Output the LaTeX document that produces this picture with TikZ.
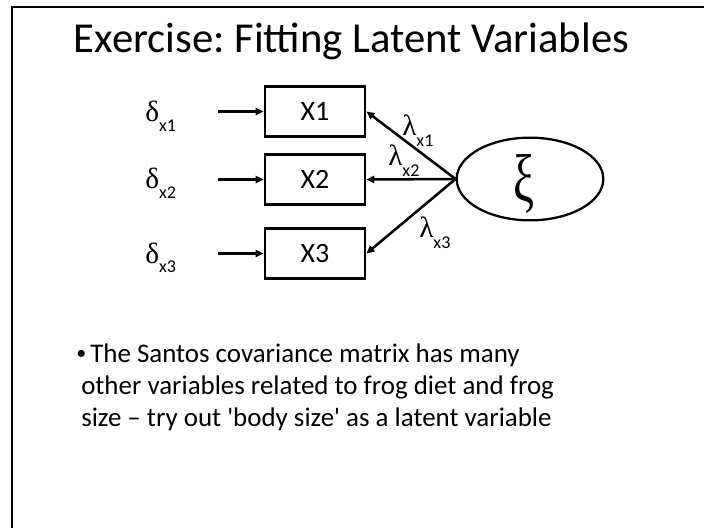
\documentclass[tikz,border=0pt]{standalone}
\usepackage{fontspec}
\setmainfont{Carlito}
\newfontfamily\carl{Carlito}
\newfontfamily\greek{Liberation Serif}
\usetikzlibrary{arrows.meta,shapes.geometric}
\begin{document}
\frenchspacing
\begin{tikzpicture}[x=0.75pt,y=-0.75pt,
  obs/.style={draw,line width=2.2pt,minimum width=75pt,minimum height=38pt,inner sep=0pt,font=\fontsize{21}{21}\selectfont},
  conn/.style={line width=1.9pt,-{Triangle[length=6pt,width=5.5pt]}},
  lbl/.style={anchor=base west,inner sep=0pt},
  body/.style={anchor=base west,inner sep=0pt,font=\fontsize{20.2}{24}\selectfont}]
\useasboundingbox (0,0) rectangle (704,528);
\draw[line width=1.6pt] (12,528) -- (12,7) -- (704,7);
\node[anchor=base,inner sep=0pt,font=\fontsize{32}{38}\selectfont] (title) at (351.5,53) {Exercise: Fitting Latent Variables};
% observed
\node[obs] (x1) at (315,111.5) {X1};
\node[obs] (x2) at (315,179.5) {X2};
\node[obs] (x3) at (315,253.5) {X3};
% labels
\newcommand{\dlab}[1]{{\greek\fontsize{22}{22}\selectfont δ}\raisebox{-7pt}{\fontsize{13.5}{13.5}\selectfont #1}}
\newcommand{\llab}[1]{{\greek\fontsize{22}{22}\selectfont λ}\raisebox{-8pt}{\fontsize{13.5}{13.5}\selectfont #1}}
\node[lbl] (d1) at (145,122) {\dlab{x1}};
\node[lbl] (d2) at (145,189) {\dlab{x2}};
\node[lbl] (d3) at (145,263) {\dlab{x3}};
\coordinate (s1) at (218,111.5);
\coordinate (s2) at (218,179.5);
\coordinate (s3) at (218,253.5);
\draw[conn] (s1) -- (x1.west);
\draw[conn] (s2) -- (x2.west);
\draw[conn] (s3) -- (x3.west);
% latent
\node[draw,ellipse,line width=1.7pt,minimum width=110pt,minimum height=62pt,inner sep=0pt] (xi) at (530,179) {};
\node[inner sep=0pt] (xit) at (524,184) {\scalebox{0.8}[1.15]{\greek\fontsize{44}{44}\selectfont ξ}};
\draw[conn] (xi.west) -- (x1.east);
\draw[conn] (xi.west) -- (x2.east);
\draw[conn] (xi.west) -- (x3.east);
\node[lbl] (l1) at (402,136) {\llab{x1}};
\node[lbl] (l2) at (388,166) {\llab{x2}};
\node[lbl] (l3) at (419,238) {\llab{x3}};
% body text
\node[body] (b0) at (76,362) {\raisebox{2pt}{\fontsize{15}{15}\selectfont •}};
\node[body] (t1) at (90,362) {The Santos covariance matrix has many};
\node[body] (t2) at (81,394) {other variables related to frog diet and frog};
\node[body] (t3) at (81,426) {size – try out {\carl '}body size{\carl '} as a latent variable};
\end{tikzpicture}
\end{document}
